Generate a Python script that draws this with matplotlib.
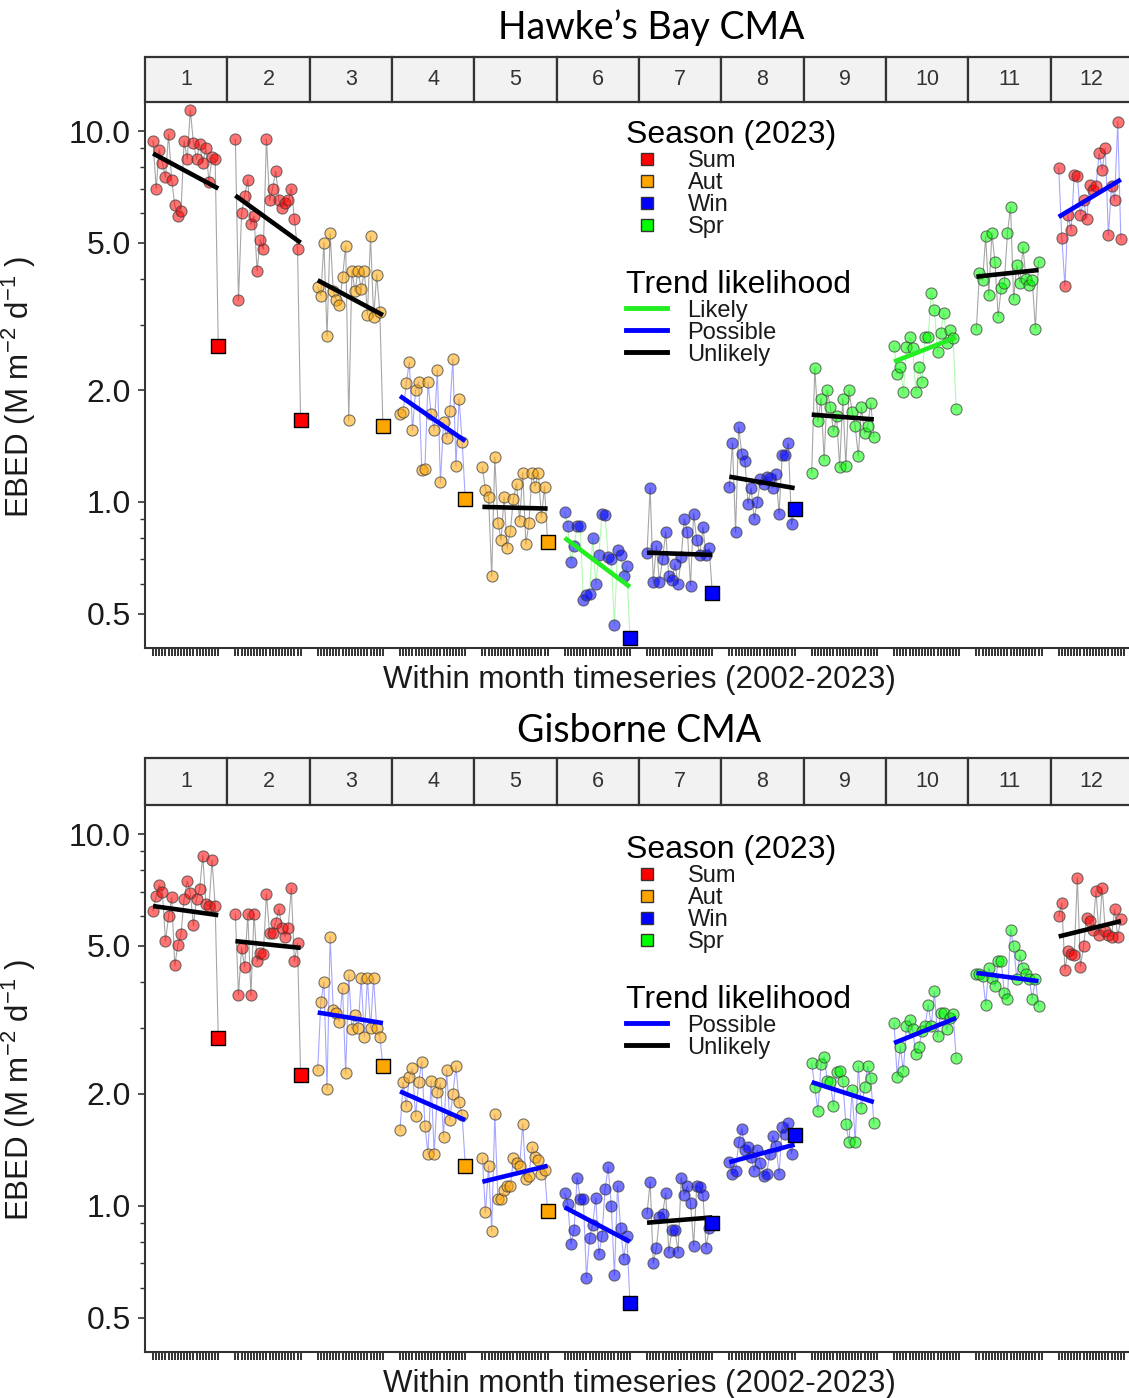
import numpy as np
import matplotlib
matplotlib.use("Agg")
import matplotlib.pyplot as plt
from matplotlib.lines import Line2D
from matplotlib.patches import Rectangle
from matplotlib.ticker import LogLocator, NullFormatter

plt.rcParams['font.family'] = ['Liberation Sans', 'DejaVu Sans']
plt.rcParams['mathtext.fontset'] = 'custom'
plt.rcParams['mathtext.rm'] = 'Liberation Sans'
plt.rcParams['mathtext.it'] = 'Liberation Sans:italic'

MONTHS = list(range(1, 13))
MONTH_SEASON = ['Sum', 'Sum', 'Aut', 'Aut', 'Aut', 'Win', 'Win', 'Win', 'Spr', 'Spr', 'Spr', 'Sum']
SEASONS = ['Sum', 'Aut', 'Win', 'Spr']
SEASON_COLORS = {'Sum': '#FF0000', 'Aut': '#FFA500', 'Win': '#0000FF', 'Spr': '#00FF00'}
TREND_COLORS = {'Likely': '#22EE22', 'Possible': '#0000FF', 'Unlikely': '#000000'}

# Hawke's Bay CMA, 2002-2022 per month
hb_values = [
    [9.4, 7.0, 8.9, 8.2, 7.5, 9.8, 7.4, 6.3, 5.9, 6.1, 9.4, 8.4, 11.4, 9.3, 8.4, 9.2, 8.2, 9.0, 7.3, 8.5, 8.4],
    [9.5, 3.5, 6.0, 6.7, 7.4, 5.6, 5.9, 4.2, 5.1, 4.8, 9.5, 6.5, 7.0, 7.8, 6.5, 6.2, 6.4, 6.5, 7.0, 5.8, 4.8],
    [3.8, 3.6, 5.0, 2.8, 5.3, 3.7, 3.5, 3.4, 4.05, 4.9, 1.66, 4.2, 3.7, 4.2, 3.75, 4.2, 3.2, 5.2, 3.15, 4.1, 3.25],
    [1.73, 1.75, 2.09, 2.38, 1.56, 2.0, 2.11, 1.22, 1.23, 2.1, 1.73, 1.56, 2.27, 1.13, 1.64, 1.49, 1.76, 2.43, 1.25, 1.9, 1.45],
    [1.24, 1.08, 1.03, 0.63, 1.32, 0.88, 0.79, 1.03, 0.75, 0.835, 1.02, 1.12, 0.89, 1.2, 0.77, 0.88, 1.2, 1.1, 1.2, 0.91, 1.1],
    [0.94, 0.86, 0.69, 0.76, 0.86, 0.86, 0.545, 0.56, 0.565, 0.8, 0.6, 0.72, 0.93, 0.92, 0.71, 0.7, 0.466, 0.74, 0.72, 0.63, 0.67],
    [0.73, 1.09, 0.61, 0.76, 0.61, 0.70, 0.83, 0.63, 0.615, 0.68, 0.60, 0.71, 0.90, 0.83, 0.595, 0.93, 0.79, 0.72, 0.855, 0.72, 0.75],
    [1.1, 1.44, 0.83, 1.59, 1.35, 1.29, 0.99, 1.09, 0.9, 1.0, 1.15, 1.12, 1.17, 1.16, 1.09, 1.19, 0.93, 1.34, 1.34, 1.44, 0.87],
    [1.2, 2.3, 1.65, 1.9, 1.3, 2.0, 1.8, 1.55, 1.7, 1.24, 1.9, 1.25, 2.0, 1.75, 1.6, 1.33, 1.8, 1.53, 1.6, 1.85, 1.5],
    [2.63, 2.21, 2.31, 1.98, 2.61, 2.78, 2.6, 1.98, 2.31, 2.1, 2.78, 2.79, 3.67, 3.29, 2.54, 2.86, 3.24, 2.68, 2.9, 2.77, 1.78],
    [2.93, 4.15, 3.96, 5.2, 3.61, 5.3, 4.43, 3.16, 3.77, 3.9, 5.3, 6.25, 3.52, 4.35, 3.9, 4.86, 3.98, 3.85, 3.96, 2.93, 4.44],
    [7.95, 5.16, 3.82, 5.94, 5.41, 7.6, 7.55, 5.94, 6.5, 5.8, 7.15, 6.95, 7.1, 8.7, 7.85, 9.0, 5.24, 7.1, 6.5, 10.6, 5.12],
]
hb_2023 = [2.63, 1.66, 1.6, 1.02, 0.78, 0.43, 0.57, 0.96, None, None, None, None]
hb_trend_start = [8.7, 6.7, 3.96, 1.93, 0.97, 0.80, 0.73, 1.17, 1.72, 2.39, 4.05, 5.87]
hb_trend_end = [7.0, 5.0, 3.19, 1.46, 0.96, 0.59, 0.72, 1.09, 1.67, 2.78, 4.22, 7.4]
hb_trend_class = ['Unlikely', 'Unlikely', 'Unlikely', 'Possible', 'Unlikely', 'Likely',
                  'Unlikely', 'Unlikely', 'Unlikely', 'Likely', 'Unlikely', 'Possible']

# Gisborne CMA
gis_values = [
    [6.21, 6.8, 7.28, 7.0, 5.15, 6.0, 6.75, 4.43, 5.04, 5.37, 6.7, 7.47, 6.95, 5.68, 6.7, 7.1, 8.75, 6.5, 6.4, 8.5, 6.4],
    [6.08, 3.7, 4.94, 4.39, 6.1, 3.68, 6.1, 4.54, 4.78, 4.77, 6.9, 5.42, 5.42, 5.78, 6.28, 5.6, 5.3, 5.6, 7.14, 4.54, 5.08],
    [2.32, 3.53, 4.0, 2.06, 5.3, 3.37, 3.3, 3.13, 3.85, 2.27, 4.18, 2.99, 3.25, 3.0, 4.1, 2.85, 4.1, 3.0, 4.1, 3.0, 2.85],
    [1.6, 2.15, 1.85, 2.22, 2.34, 1.74, 2.15, 2.44, 1.64, 1.38, 2.17, 1.38, 2.02, 2.14, 1.53, 2.32, 1.7, 2.0, 2.37, 1.9, 1.75],
    [1.34, 0.96, 1.28, 0.855, 1.76, 1.04, 1.04, 1.1, 1.13, 1.13, 1.34, 1.3, 1.28, 1.66, 1.18, 1.2, 1.44, 1.35, 1.33, 1.22, 1.25],
    [1.08, 1.01, 0.79, 0.86, 1.19, 1.04, 1.04, 0.64, 0.82, 0.89, 1.05, 0.74, 0.83, 1.11, 1.27, 1.0, 0.65, 1.13, 0.87, 0.72, 0.83],
    [0.953, 1.16, 0.70, 0.77, 0.93, 0.95, 1.08, 0.75, 0.86, 0.86, 0.75, 1.19, 1.07, 1.13, 1.02, 0.78, 1.13, 1.12, 1.07, 0.77, 0.87],
    [1.31, 1.22, 1.24, 1.48, 1.61, 1.41, 1.44, 1.35, 1.24, 1.41, 1.3, 1.2, 1.22, 1.38, 1.54, 1.45, 1.22, 1.63, 1.56, 1.67, 1.38],
    [2.42, 2.08, 1.8, 2.4, 2.52, 2.17, 2.15, 1.85, 2.29, 2.3, 2.17, 1.66, 1.48, 2.05, 1.48, 2.37, 1.83, 2.08, 2.37, 2.2, 1.67],
    [3.1, 2.22, 2.68, 2.3, 3.04, 3.16, 2.98, 2.56, 2.68, 2.95, 3.05, 3.47, 3.05, 3.77, 2.86, 3.3, 3.3, 2.98, 3.2, 3.28, 2.5],
    [4.21, 4.2, 4.15, 3.47, 4.36, 4.1, 3.9, 4.54, 4.54, 3.73, 3.6, 5.53, 5.0, 4.08, 4.72, 4.36, 4.2, 4.08, 3.6, 4.08, 3.45],
    [6.0, 6.52, 4.32, 4.84, 4.75, 4.72, 7.63, 4.4, 4.99, 5.95, 5.85, 5.53, 7.03, 5.34, 7.18, 5.5, 5.34, 5.3, 6.27, 5.3, 5.9],
]
gis_2023 = [2.82, 2.25, 2.37, 1.28, 0.97, 0.548, 0.9, 1.55, None, None, None, None]
gis_trend_start = [6.4, 5.15, 3.31, 2.03, 1.16, 0.99, 0.9, 1.31, 2.15, 2.74, 4.23, 5.3]
gis_trend_end = [6.05, 4.94, 3.1, 1.7, 1.28, 0.8, 0.93, 1.46, 1.9, 3.2, 4.02, 5.83]
gis_trend_class = ['Unlikely', 'Unlikely', 'Possible', 'Possible', 'Possible', 'Possible',
                   'Unlikely', 'Possible', 'Possible', 'Possible', 'Possible', 'Unlikely']

FACET_W = 26.5
OFFSET = 2.6
TEXT_COL = '#1A1A1A'


def draw_panel(fig, ax_rect, strip_rect, title, title_xy, values, v2023,
               tstart, tend, tclass, legend_trends, season_anchor, trend_anchor):
    ax = fig.add_axes(ax_rect)
    all_ticks = []
    for i in range(12):
        vals = values[i]
        xs = i * FACET_W + OFFSET + np.arange(len(vals))
        all_ticks.extend(i * FACET_W + OFFSET + np.arange(22))
        line_x, line_y = list(xs), list(vals)
        x23 = i * FACET_W + OFFSET + len(vals)
        if v2023[i] is not None:
            line_x.append(x23)
            line_y.append(v2023[i])
        tcol = TREND_COLORS[tclass[i]]
        scol = SEASON_COLORS[MONTH_SEASON[i]]
        ax.plot(line_x, line_y, color=tcol, alpha=0.35, lw=0.8, zorder=1)
        ax.scatter(xs, vals, s=64, color=matplotlib.colors.to_rgba(scol, 0.55),
                   edgecolor=(0.25, 0.25, 0.25, 0.7), lw=0.8, zorder=2)
        ax.plot([line_x[0], line_x[-1]], [tstart[i], tend[i]], color=tcol, lw=3.3,
                solid_capstyle='butt', zorder=3)
        if v2023[i] is not None:
            ax.scatter([x23], [v2023[i]], marker='s', s=95, color=scol,
                       edgecolor='black', lw=1.0, zorder=4)

    ax.set_xlim(0, 12 * FACET_W)
    ax.set_yscale('log')
    ax.set_ylim(0.404, 11.9)
    ax.set_yticks([0.5, 1, 2, 5, 10])
    ax.set_yticklabels(['0.5', '1.0', '2.0', '5.0', '10.0'])
    ax.yaxis.set_minor_locator(LogLocator(subs=range(2, 10)))
    ax.yaxis.set_minor_formatter(NullFormatter())
    ax.set_xticks(all_ticks)
    ax.set_xticklabels([])
    ax.tick_params(axis='y', which='major', length=5, width=1.2, labelsize=23,
                   colors='#333333', labelcolor=TEXT_COL, pad=5)
    ax.tick_params(axis='y', which='minor', length=3.5, width=1.0, colors='#333333')
    ax.tick_params(axis='x', length=6, width=1.4, colors='#333333')
    for side in ['top', 'right']:
        ax.spines[side].set_visible(False)
    for side in ['left', 'bottom']:
        ax.spines[side].set_linewidth(1.5)
        ax.spines[side].set_color('#333333')

    ax.set_xlabel('Within month timeseries (2002-2023)', fontsize=22.5, color=TEXT_COL)
    ax.xaxis.set_label_coords(0.5, -0.032)
    ax.set_ylabel(r'EBED (M m$^{-2}$ d$^{-1}$ )', fontsize=22.5, color=TEXT_COL)
    ax.yaxis.set_label_coords(-0.108, 0.48)

    season_handles = [Line2D([], [], marker='s', ls='none', markersize=9,
                             markerfacecolor=SEASON_COLORS[s], markeredgecolor='#333333')
                      for s in SEASONS]
    leg1 = ax.legend(season_handles, SEASONS, title='Season (2023)', loc='upper left',
                     bbox_to_anchor=season_anchor, frameon=False, fontsize=17,
                     title_fontsize=23, labelspacing=0.0, handlelength=1.75,
                     handletextpad=0.85, borderpad=0, borderaxespad=0, alignment='left',
                     labelcolor=TEXT_COL)
    ax.add_artist(leg1)
    trend_handles = [Line2D([], [], color=TREND_COLORS[t], lw=3.5) for t in legend_trends]
    ax.legend(trend_handles, legend_trends, title='Trend likelihood', loc='upper left',
              bbox_to_anchor=trend_anchor, frameon=False, fontsize=17,
              title_fontsize=23, labelspacing=0.0, handlelength=1.75,
              handletextpad=0.85, borderpad=0, borderaxespad=0, alignment='left',
              labelcolor=TEXT_COL)

    # facet strips
    axs = fig.add_axes(strip_rect)
    axs.set_xlim(0, 12 * FACET_W)
    axs.set_ylim(0, 1)
    axs.axis('off')
    for i, m in enumerate(MONTHS):
        axs.add_patch(Rectangle((i * FACET_W, 0), FACET_W, 1, facecolor='#F2F2F2',
                                edgecolor='#333333', lw=1.6, clip_on=False))
        axs.text(i * FACET_W + FACET_W / 2, 0.5, str(m), ha='center', va='center',
                 fontsize=15.5, color='#333333')

    fig.text(title_xy[0], title_xy[1], title, ha='center', va='center', fontsize=27,
             family=['Lato', 'DejaVu Sans'], color='black')
    return ax


fig = plt.figure(figsize=(11.29, 13.98), dpi=100)

draw_panel(fig, [0.1284, 0.5365, 0.8751, 0.3898], [0.1284, 0.927, 0.8751, 0.0322],
           'Hawke\u2019s Bay CMA', (651 / 1129, 1 - 28 / 1398),
           hb_values, hb_2023, hb_trend_start, hb_trend_end, hb_trend_class,
           ['Likely', 'Possible', 'Unlikely'], (0.487, 0.968), (0.487, 0.6945))

draw_panel(fig, [0.1284, 0.0329, 0.8751, 0.3906], [0.1284, 0.4242, 0.8751, 0.0336],
           'Gisborne CMA', (639 / 1129, 1 - 731 / 1398),
           gis_values, gis_2023, gis_trend_start, gis_trend_end, gis_trend_class,
           ['Possible', 'Unlikely'], (0.487, 0.946), (0.487, 0.673))

fig.savefig('out.png', dpi=100)
